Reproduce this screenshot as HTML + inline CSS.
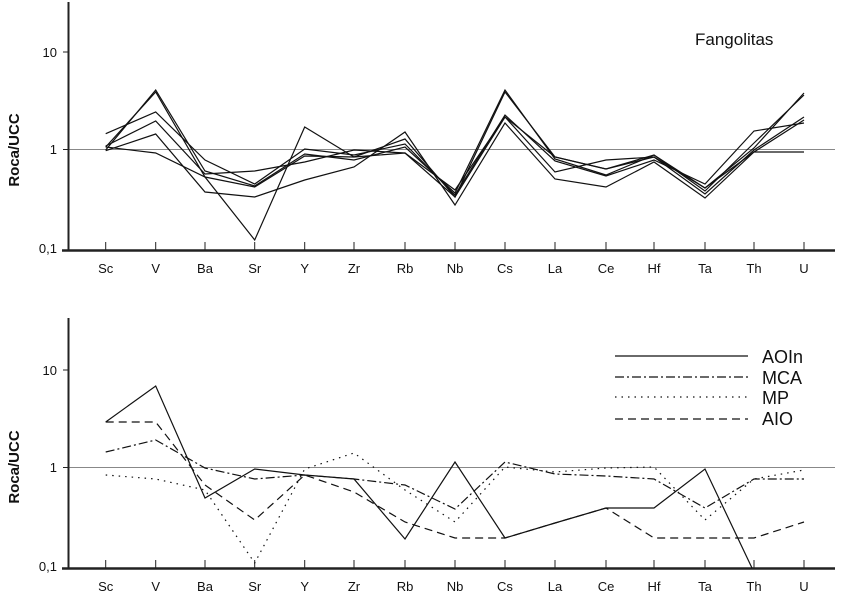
<!DOCTYPE html>
<html><head><meta charset="utf-8"><style>
body{margin:0;background:#fff}
svg text{font-family:"Liberation Sans",Arial,sans-serif}
</style></head><body>
<svg width="849" height="596" viewBox="0 0 849 596" xmlns="http://www.w3.org/2000/svg">
<g stroke="#222" fill="none">
<!-- top panel -->
<line x1="68" y1="149.5" x2="835" y2="149.5" stroke="#888" stroke-width="1"/>
<line x1="68.5" y1="2" x2="68.5" y2="251" stroke-width="2"/>
<line x1="62" y1="250.5" x2="835" y2="250.5" stroke-width="2.5"/>
<line x1="63" y1="52" x2="68" y2="52"/><line x1="63" y1="149.5" x2="68" y2="149.5"/>
<g stroke-width="1">
<path d="M105.7 242V250M155.7 242V250M205 242V250M254.7 242V250M304.7 242V250M354 242V250M405 242V250M455 242V250M505 242V250M555 242V250M606 242V250M654 242V250M705 242V250M754 242V250M804 242V250"/>
</g>
<g stroke="#111" stroke-width="1.2">
<polyline points="105.7,147 155.7,92 205,177 254.7,240 304.7,127 354,157 405,139 455,197 505,92 555,157 606,169 654,157 705,188 754,148 804,93"/>
<polyline points="105.7,150 155.7,90 205,171 254.7,186 304.7,154 354,160 405,147 455,193 505,90 555,159 606,175 654,155 705,191 754,143 804,95"/>
<polyline points="105.7,133.7 155.7,112 205,160 254.7,184 304.7,149 354,155 405,144 455,195 505,115 555,161 606,176 654,160 705,184 754,131 804,123"/>
<polyline points="105.7,146 155.7,121 205,174 254.7,171 304.7,162 354,150 405,153 455,190 505,117 555,172 606,160 654,157 705,194 754,150 804,117"/>
<polyline points="105.7,150.7 155.7,134 205,192 254.7,197 304.7,180 354,167 405,132 455,205 505,123 555,179 606,187 654,162 705,198 754,152 804,120"/>
<polyline points="105.7,147 155.7,153 205,177 254.7,187 304.7,156 354,157 405,153 455,197 505,117 555,157 606,169 654,155 705,188 754,152 804,152"/>
</g>
<!-- bottom panel -->
<line x1="68" y1="467.5" x2="835" y2="467.5" stroke="#888" stroke-width="1"/>
<line x1="68.5" y1="318" x2="68.5" y2="569" stroke-width="2"/>
<line x1="62" y1="568.5" x2="835" y2="568.5" stroke-width="2.5"/>
<line x1="63" y1="370" x2="68" y2="370"/><line x1="63" y1="467.5" x2="68" y2="467.5"/>
<path stroke-width="1" d="M105.7 560V568M155.7 560V568M205 560V568M254.7 560V568M304.7 560V568M354 560V568M405 560V568M455 560V568M505 560V568M555 560V568M606 560V568M654 560V568M705 560V568M754 560V568M804 560V568"/>
<g stroke="#111" stroke-width="1.2">
<polyline points="105.7,422 155.7,386 205,498 254.7,469 304.7,475 354,479 405,539 455,462 505,538 555,523 606,508 654,508 705,469 752,568"/>
<polyline stroke-dasharray="8,5" points="105.7,422 155.7,422 205,485 254.7,520 304.7,475 354,492 405,522 455,538 505,538 555,523 606,508 654,538 705,538 754,538 804,522"/>
<polyline stroke-dasharray="9,3,2,3" points="105.7,452 155.7,440 205,468 254.7,479 304.7,475 354,479 405,485 455,509 505,462 555,474 606,476 654,479 705,508 754,479 804,479"/>
<polyline stroke-dasharray="1.5,5" points="105.7,475 155.7,479 205,490 254.7,563 304.7,469 354,453 405,490 455,522 505,467 555,472 606,468 654,467 705,520 754,479 804,470"/>
<line x1="615" y1="356" x2="748" y2="356"/>
<line x1="615" y1="377" x2="748" y2="377" stroke-dasharray="9,3,2,3"/>
<line x1="615" y1="397" x2="748" y2="397" stroke-dasharray="1.5,5"/>
<line x1="615" y1="419" x2="748" y2="419" stroke-dasharray="8,5"/>
</g>
</g>
<g fill="#111" font-size="13">
<text x="57" y="57" text-anchor="end">10</text><text x="57" y="154" text-anchor="end">1</text><text x="57" y="253" text-anchor="end">0,1</text>
<text x="57" y="375" text-anchor="end">10</text><text x="57" y="472" text-anchor="end">1</text><text x="57" y="571" text-anchor="end">0,1</text>
<g text-anchor="middle">
<text x="105.7" y="273">Sc</text><text x="155.7" y="273">V</text><text x="205" y="273">Ba</text><text x="254.7" y="273">Sr</text><text x="304.7" y="273">Y</text><text x="354" y="273">Zr</text><text x="405" y="273">Rb</text><text x="455" y="273">Nb</text><text x="505" y="273">Cs</text><text x="555" y="273">La</text><text x="606" y="273">Ce</text><text x="654" y="273">Hf</text><text x="705" y="273">Ta</text><text x="754" y="273">Th</text><text x="804" y="273">U</text>
<text x="105.7" y="591">Sc</text><text x="155.7" y="591">V</text><text x="205" y="591">Ba</text><text x="254.7" y="591">Sr</text><text x="304.7" y="591">Y</text><text x="354" y="591">Zr</text><text x="405" y="591">Rb</text><text x="455" y="591">Nb</text><text x="505" y="591">Cs</text><text x="555" y="591">La</text><text x="606" y="591">Ce</text><text x="654" y="591">Hf</text><text x="705" y="591">Ta</text><text x="754" y="591">Th</text><text x="804" y="591">U</text>
</g>
<text x="19" y="150" font-size="15" font-weight="bold" text-anchor="middle" transform="rotate(-90 19 150)">Roca/UCC</text>
<text x="19" y="467" font-size="15" font-weight="bold" text-anchor="middle" transform="rotate(-90 19 467)">Roca/UCC</text>
<text x="695" y="45" font-size="17">Fangolitas</text>
<g font-size="18"><text x="762" y="363">AOIn</text><text x="762" y="384">MCA</text><text x="762" y="404">MP</text><text x="762" y="425">AIO</text></g>
</g>
</svg>
</body></html>
